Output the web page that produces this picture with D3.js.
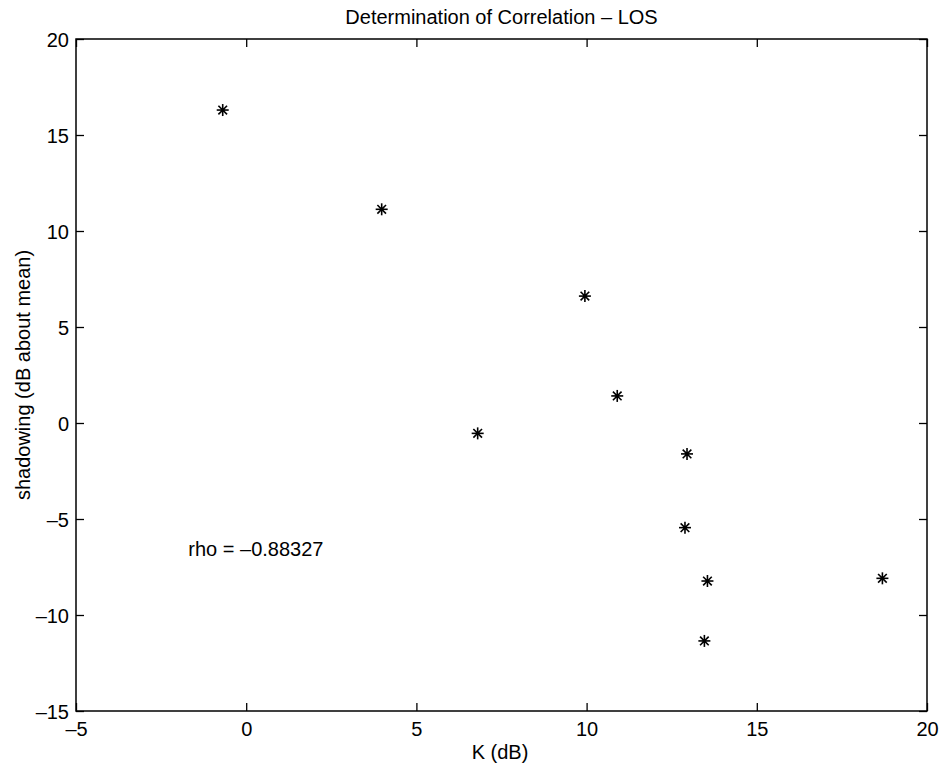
<!DOCTYPE html>
<html><head><meta charset="utf-8">
<script src="https://cdn.jsdelivr.net/npm/d3@7"></script>
<style>body{margin:0;background:#fff;} text{font-family:"Liberation Sans",Arial,Helvetica,sans-serif;fill:#000;}</style>
</head><body>
<svg id="c" width="943" height="771"></svg>
<script>
const kValues = [-0.69, 3.98, 9.95, 10.90, 6.80, 12.95, 12.89, 13.55, 13.46, 18.69];
const shadowValues = [16.30, 11.13, 6.61, 1.41, -0.54, -1.61, -5.45, -8.23, -11.35, -8.09];
const xTicks = [-5, 0, 5, 10, 15, 20];
const yTicks = [-15, -10, -5, 0, 5, 10, 15, 20];
const titleText = "Determination of Correlation – LOS";
const xLabel = "K (dB)";
const yLabel = "shadowing (dB about mean)";
const rhoText = "rho = –0.88327";
const rhoPos = [-1.7, -6.6];

const svg = d3.select("#c");
const L = 76, R = 927, T = 39, B = 711;
const x = d3.scaleLinear().domain([-5, 20]).range([L, R]);
const y = d3.scaleLinear().domain([-15, 20]).range([B, T]);
const tk = 8;
const FS = 20;
const fmt = d => d < 0 ? "\u2013" + Math.abs(d) : String(d);

const gx = svg.append("g").attr("transform", `translate(0,${B})`)
  .call(d3.axisBottom(x).tickValues(xTicks).tickSizeInner(-tk).tickSizeOuter(0).tickPadding(11).tickFormat(fmt));
const gxt = svg.append("g").attr("transform", `translate(0,${T})`)
  .call(d3.axisTop(x).tickValues(xTicks).tickSizeInner(-tk).tickSizeOuter(0).tickFormat(""));
const gy = svg.append("g").attr("transform", `translate(${L},0)`)
  .call(d3.axisLeft(y).tickValues(yTicks).tickSizeInner(-tk).tickSizeOuter(0).tickPadding(7).tickFormat(fmt));
const gyr = svg.append("g").attr("transform", `translate(${R},0)`)
  .call(d3.axisRight(y).tickValues(yTicks).tickSizeInner(-tk).tickSizeOuter(0).tickFormat(""));
[gx, gxt, gy, gyr].forEach(g => {
  g.select(".domain").remove();
  g.selectAll("line").attr("stroke", "#000").attr("stroke-width", 1.3);
  g.selectAll("text").attr("font-size", FS).attr("font-family", "Liberation Sans, Arial, sans-serif").attr("fill", "#000");
});
gy.selectAll("text").attr("dy", "0.35em");

svg.append("rect").attr("x", L).attr("y", T).attr("width", R - L).attr("height", B - T)
  .attr("fill", "none").attr("stroke", "#000").attr("stroke-width", 1.5);

const s = 6;
const pts = svg.append("g").selectAll("g").data(kValues.map((k, i) => [k, shadowValues[i]]))
  .join("g").attr("transform", d => `translate(${x(d[0])},${y(d[1])})`);
const arms = [[-s, 0, s, 0], [0, -s, 0, s], [-s*0.72, -s*0.72, s*0.72, s*0.72], [-s*0.72, s*0.72, s*0.72, -s*0.72]];
arms.forEach(a => pts.append("line").attr("x1", a[0]).attr("y1", a[1]).attr("x2", a[2]).attr("y2", a[3])
  .attr("stroke", "#000").attr("stroke-width", 1.6));
pts.append("circle").attr("r", 2).attr("fill", "#000");

svg.append("text").attr("x", (L + R) / 2).attr("y", 24).attr("text-anchor", "middle").attr("font-size", FS).text(titleText);
svg.append("text").attr("x", 500).attr("y", 759).attr("text-anchor", "middle").attr("font-size", FS).text(xLabel);
svg.append("text").attr("transform", `translate(30,${(T + B) / 2}) rotate(-90)`).attr("text-anchor", "middle").attr("font-size", FS).text(yLabel);
svg.append("text").attr("x", x(rhoPos[0])).attr("y", y(rhoPos[1]) + 6).attr("font-size", FS).text(rhoText);
</script>
</body></html>
